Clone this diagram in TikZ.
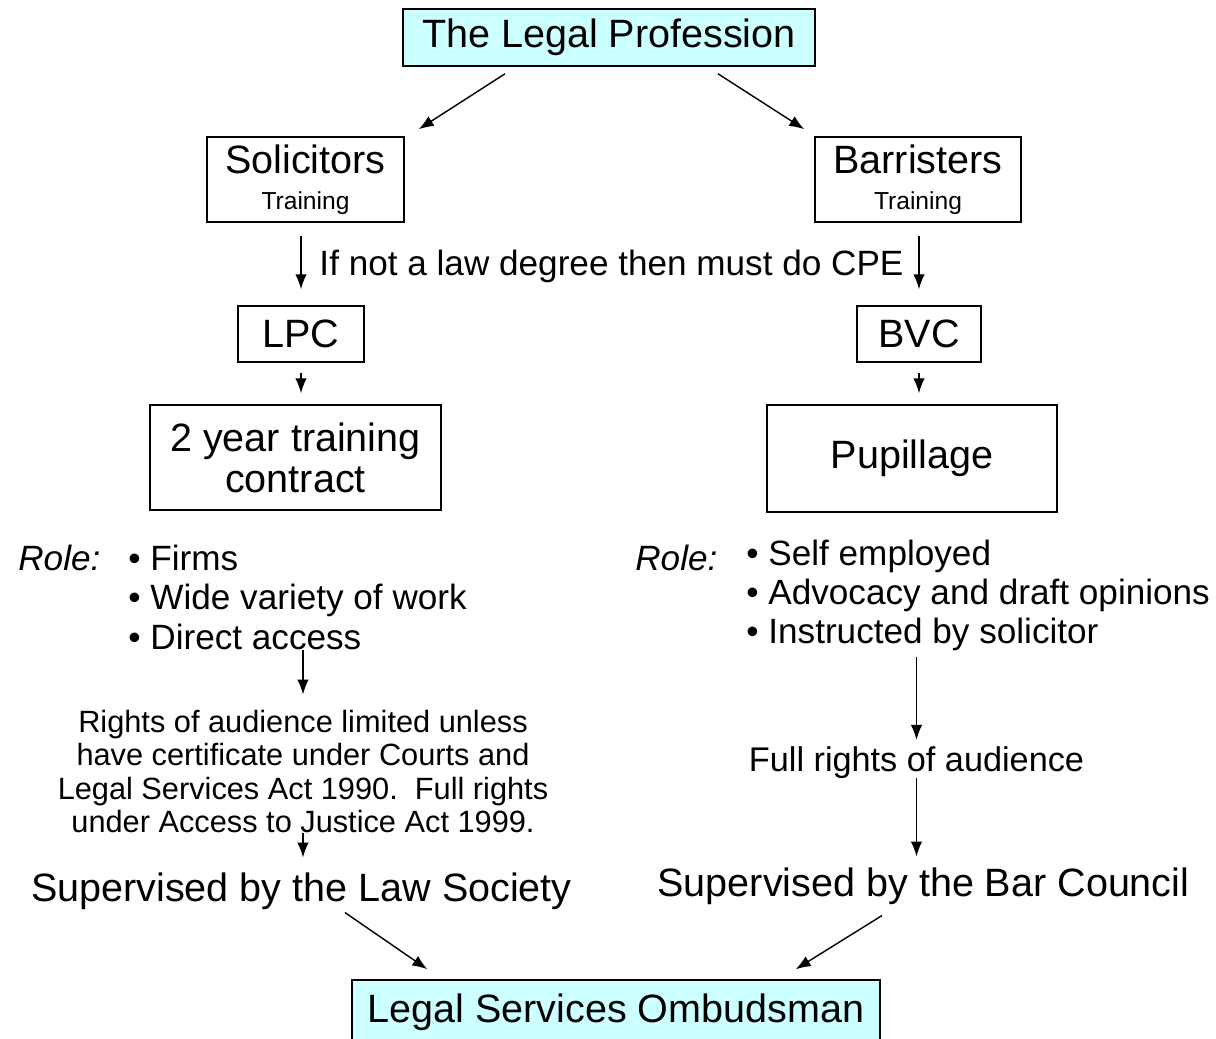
\documentclass[tikz,border=0pt]{standalone}
\usepackage{fontspec}
\setmainfont{Liberation Sans}
\usetikzlibrary{arrows.meta}
\definecolor{headfill}{HTML}{CCFFFF}

\begin{document}
\begin{tikzpicture}[x=0.02cm,y=-0.02cm,>={Latex[length=8.5pt,width=6.5pt]}]
		\tikzstyle{box}=[draw,line width=0.9pt,inner sep=0pt,align=center,
							font=\fontsize{22.5}{23.2}\selectfont]
		\tikzstyle{head}=[box,fill=headfill]
		\tikzstyle{big}=[inner sep=0pt,align=center,font=\fontsize{22.5}{23.2}\selectfont]
		\tikzstyle{mid}=[inner sep=0pt,align=left,font=\fontsize{20}{22.4}\selectfont]
		\tikzstyle{link}=[->,line width=0.8pt]

		\clip (0,0) rectangle (1216,1038);

		% top
		\node[head,minimum width=8.24cm,minimum height=1.14cm] (prof) at (609,37.5) {The Legal Profession};

		% training
		\node[box,minimum width=3.94cm,minimum height=1.7cm] (sol) at (305.5,179.5)
			{Solicitors\\[-3pt]{\fontsize{14}{16}\selectfont Training}};
		\node[box,minimum width=4.12cm,minimum height=1.7cm] (bar) at (918,179.5)
			{Barristers\\[-3pt]{\fontsize{14}{16}\selectfont Training}};
		\node[mid,anchor=base] (cpe) at (611.5,275.6) {If not a law degree then must do CPE};

		% courses
		\node[box,minimum width=2.52cm,minimum height=1.12cm] (lpc) at (301,334) {LPC};
		\node[box,minimum width=2.48cm,minimum height=1.12cm] (bvc) at (919,334) {BVC};
		\node[box,minimum width=5.82cm,minimum height=2.1cm] (con) at (295.5,457.5) {2 year training\\contract};
		\node[box,minimum width=5.8cm,minimum height=2.14cm] (pup) at (912,458.5) {Pupillage};

		% roles
		\node[mid,anchor=base west] (roleL) at (18,570) {\textit{Role:}};
		\node[mid,anchor=north west] (listL) at (128,544.7)
			{\textbullet{} Firms\\\textbullet{} Wide variety of work\\\textbullet{} Direct access};
		\node[mid,anchor=base west] (roleR) at (635,570) {\textit{Role:}};
		\node[mid,anchor=north west] (listR) at (746,539.3)
			{\textbullet{} Self employed\\\textbullet{} Advocacy and draft opinions\\\textbullet{} Instructed by solicitor};

		% audience
		\node[inner sep=0pt,align=center,font=\fontsize{17.5}{19.1}\selectfont] (rights) at (303,771.5)
			{Rights of audience limited unless\\have certificate under Courts and\\Legal Services Act 1990.\ \ Full rights\\under Access to Justice Act 1999.};
		\node[inner sep=0pt,font=\fontsize{19.5}{22}\selectfont,anchor=base] (full) at (916.5,771) {Full rights of audience};

		% supervision
		\node[big,anchor=base] (lawsoc) at (301.5,901) {Supervised by the Law Society};
		\node[big,anchor=base] (barsoc) at (923.5,896) {Supervised by the Bar Council};
		\node[head,minimum width=10.56cm,minimum height=1.28cm] (omb) at (616,1012) {Legal Services Ombudsman};

		% edges
		\draw[link] ([shift={(-104,7)}]prof.south) -- ([shift={(14,-7)}]sol.north east);
		\draw[link] ([shift={(109,7)}]prof.south) -- ([shift={(-10,-7)}]bar.north west);

		\foreach \a/\b in {sol/lpc, bar/bvc}
			\draw[link,shorten <=0.26cm,shorten >=0.32cm] (\b.north |- \a.south) -- (\b.north);
		\foreach \a/\b in {lpc/con, bvc/pup}
			\draw[link,shorten <=0.2cm,shorten >=0.22cm] (\a.south) -- (\a.south |- \b.north);

		\draw[link,shorten >=0.3cm] (rights.north |- listL.south) -- (rights.north);
		\draw[link,shorten >=0.29cm] (rights.south) -- (rights.south |- lawsoc.north);
		\draw[link,shorten <=0.12cm,shorten >=0.12cm] (full.north |- listR.south) -- (full.north);
		\draw[link,shorten >=0.21cm] (full.south) -- (full.south |- barsoc.north);

		\draw[link] ([shift={(43.5,3)}]lawsoc.south) -- ([shift={(76,-10)}]omb.north west);
		\draw[link] ([shift={(-41.5,11)}]barsoc.south) -- ([shift={(-85,-10)}]omb.north east);

	\end{tikzpicture}
\end{document}
